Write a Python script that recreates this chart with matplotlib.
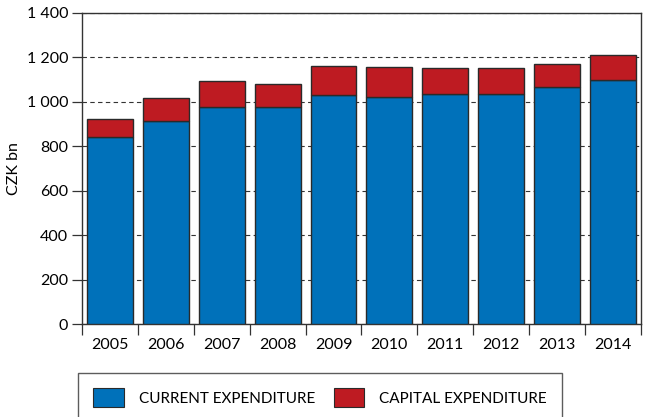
import matplotlib
matplotlib.use("Agg")
import matplotlib.pyplot as plt
import numpy as np
from matplotlib.patches import Patch

# Government expenditure, CZK bn
YEARS = ["2005", "2006", "2007", "2008", "2009", "2010", "2011", "2012", "2013", "2014"]
CURRENT = [844, 913, 975, 977, 1031, 1024, 1034, 1037, 1069, 1097]
TOTAL = [922, 1019, 1093, 1082, 1163, 1155, 1154, 1151, 1172, 1209]
CAPITAL = [t - c for t, c in zip(TOTAL, CURRENT)]

BLUE = "#0071BA"
RED = "#BE1B22"
EDGE = "#2a2a2a"

plt.rcParams["font.family"] = ["Lato", "DejaVu Sans"]

fig = plt.figure(figsize=(6.46, 4.17), dpi=100)
ax = fig.add_axes([0.127, 0.222, 0.865, 0.747])

x = np.arange(len(YEARS))
ax.bar(x, CURRENT, width=0.82, color=BLUE, edgecolor=EDGE, linewidth=1.0, zorder=3)
ax.bar(x, CAPITAL, bottom=CURRENT, width=0.82, color=RED, edgecolor=EDGE,
       linewidth=1.0, zorder=3)

ax.set_xlim(-0.5, len(YEARS) - 0.5)
ax.set_ylim(0, 1400)
ax.set_yticks(np.arange(0, 1401, 200))
ax.set_yticklabels([f"{v:,}".replace(",", " ") for v in range(0, 1401, 200)], fontsize=11.5)
ax.yaxis.grid(True, linestyle=(0, (4, 3)), color="#333333", linewidth=0.8, zorder=0)
ax.set_axisbelow(True)

# ticks at category boundaries, labels centered under bars
ax.set_xticks(np.arange(-0.5, len(YEARS), 1.0))
ax.set_xticklabels([])
ax.set_xticks(x, minor=True)
ax.set_xticklabels(YEARS, minor=True, fontsize=11.5)
ax.tick_params(axis="x", which="major", direction="out", length=8, width=0.9, color="#333333")
ax.tick_params(axis="x", which="minor", length=0, pad=10)
ax.tick_params(axis="y", direction="out", length=7, width=0.9, color="#333333", pad=3)

for s in ax.spines.values():
    s.set_color("#333333")
    s.set_linewidth(1.0)

ax.set_ylabel("CZK bn", fontsize=11.5, labelpad=4)

handles = [Patch(facecolor=BLUE, edgecolor=EDGE, linewidth=0.8),
           Patch(facecolor=RED, edgecolor=EDGE, linewidth=0.8)]
leg = fig.legend(handles, ["CURRENT EXPENDITURE", "CAPITAL EXPENDITURE"],
                 loc="upper left", bbox_to_anchor=(0.1207, 0.1055), ncol=2,
                 fontsize=11, frameon=True, fancybox=False, edgecolor="#333333",
                 handlelength=2.0, handleheight=1.5, handletextpad=1.0,
                 columnspacing=1.2, borderpad=1.0, borderaxespad=0)
leg.get_frame().set_linewidth(1.0)

fig.savefig("out.png", dpi=100)
